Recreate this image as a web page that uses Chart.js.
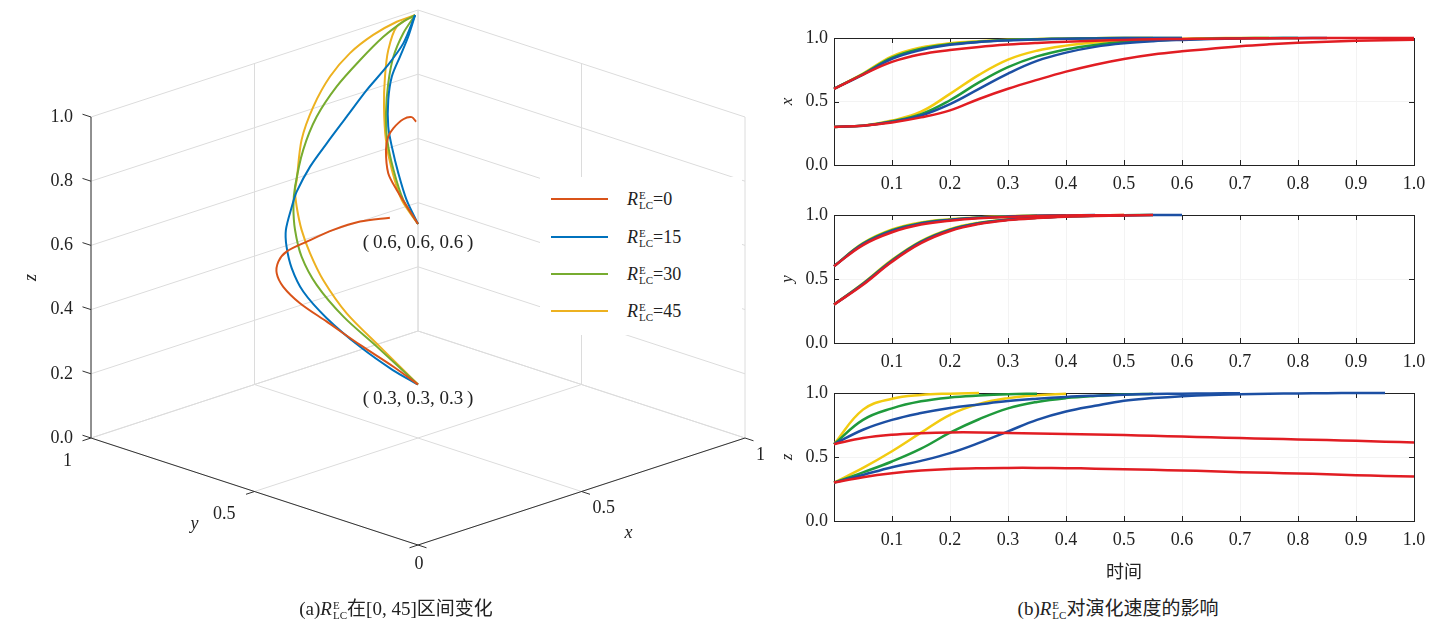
<!DOCTYPE html>
<html lang="zh">
<head>
<meta charset="UTF-8">
<title>R_LC^E 演化</title>
<script src="https://cdnjs.cloudflare.com/ajax/libs/Chart.js/4.4.3/chart.umd.min.js"></script>
<style>
  body { margin: 0; background: #fff; }
  #fig { position: relative; width: 1453px; height: 629px; overflow: hidden;
         font-family: "Liberation Serif", "Times New Roman", "DejaVu Serif", serif; color: #222; }
  canvas { position: absolute; }
  .legend { position: absolute; left: 540px; top: 177px; width: 202px; height: 158px; background: #fff; }
  .item { position: absolute; left: 11px; width: 190px; height: 24px; }
  .item .ln { position: absolute; left: 0; top: 11px; width: 57px; height: 2px; }
  .item .tx { position: absolute; left: 76px; top: 0; font-size: 18px; line-height: 24px; white-space: nowrap; }
  .ss { display: inline-flex; flex-direction: column; font-size: 11px; line-height: 10px;
        vertical-align: 6px; margin-left: 1px; }
  .cap { position: absolute; transform: translate(-50%, -50%); font-size: 19px; white-space: nowrap; }
  .cjk { font-family: "Noto Sans CJK SC", sans-serif; }
</style>
</head>
<body>
<div id="fig">
  <canvas id="c3d" width="770" height="629" style="left:0;top:0"></canvas>
  <canvas id="cx" width="683" height="200" style="left:770px;top:0"></canvas>
  <canvas id="cy" width="683" height="190" style="left:770px;top:190px"></canvas>
  <canvas id="cz" width="683" height="220" style="left:770px;top:370px"></canvas>
  <div class="legend" id="legend"></div>
  <div class="cap" style="left:396px;top:606px">(a)<i>R</i><span class="ss"><span>E</span><span>LC</span></span><span class="cjk">在</span>[0, 45]<span class="cjk">区间变化</span></div>
  <div class="cap" style="left:1118px;top:606px">(b)<i>R</i><span class="ss"><span>E</span><span>LC</span></span><span class="cjk">对演化速度的影响</span></div>
</div>

<script>
// ---- data ----
const rValues = ['0', '15', '30', '45'];
const colors3d = ['#D95319', '#0072BD', '#77AC30', '#EDB120'];
const colors2d = ['#e11d23', '#1c4fa3', '#1f9a3c', '#f2cb10'];

// 3D trajectories [x, y, z], start (0.3,0.3,0.3) and (0.6,0.6,0.6)
const red3Low = [[0.3,0.3,0.3],[0.305,0.38,0.327],[0.32,0.497,0.351],[0.34,0.619,0.376],[0.36,0.721,0.393],[0.39,0.802,0.407],[0.42,0.852,0.422],[0.46,0.887,0.434],[0.51,0.912,0.44],[0.61,0.95,0.425],[0.716,0.975,0.418],[0.811,0.988,0.408],[0.909,0.995,0.385]];
const red3High = [[0.6,0.6,0.6],[0.665,0.73,0.641],[0.709,0.8,0.655],[0.782,0.88,0.677],[0.839,0.93,0.682],[0.88,0.955,0.687],[0.935,0.98,0.688],[0.973,0.992,0.678],[0.991,0.997,0.656]];
const blue3Low = [[0.3,0.3,0.3],[0.305,0.382,0.316],[0.32,0.497,0.345],[0.34,0.619,0.387],[0.37,0.721,0.426],[0.41,0.796,0.46],[0.46,0.862,0.489],[0.51,0.914,0.507],[0.57,0.956,0.545],[0.6,0.971,0.577],[0.655,0.985,0.632],[0.713,0.992,0.683],[0.778,0.996,0.743],[0.841,0.998,0.804],[0.903,0.999,0.856],[0.955,1,0.911],[0.991,1,0.987]];
const blue3High = [[0.6,0.6,0.6],[0.665,0.7,0.62],[0.73,0.79,0.651],[0.785,0.865,0.691],[0.819,0.91,0.727],[0.859,0.95,0.783],[0.892,0.972,0.838],[0.932,0.987,0.882],[0.965,0.995,0.93],[0.991,1,0.987]];
const green3Low = [[0.3,0.3,0.3],[0.315,0.441,0.366],[0.335,0.563,0.412],[0.36,0.67,0.467],[0.4,0.756,0.513],[0.45,0.826,0.556],[0.51,0.891,0.587],[0.565,0.941,0.614],[0.63,0.981,0.694],[0.685,0.995,0.774],[0.75,0.999,0.845],[0.822,0.999,0.904],[0.894,1,0.952],[0.955,1,0.979],[0.991,1,0.987]];
const green3High = [[0.6,0.6,0.6],[0.675,0.72,0.61],[0.745,0.82,0.647],[0.796,0.89,0.7],[0.842,0.94,0.751],[0.879,0.97,0.822],[0.91,0.985,0.89],[0.95,0.995,0.946],[0.991,1,0.987]];
const yellow3Low = [[0.3,0.3,0.3],[0.31,0.426,0.372],[0.33,0.548,0.429],[0.36,0.65,0.489],[0.4,0.73,0.532],[0.45,0.806,0.563],[0.51,0.881,0.59],[0.56,0.936,0.607],[0.59,0.961,0.62],[0.635,0.991,0.72],[0.678,0.998,0.807],[0.73,0.999,0.883],[0.792,1,0.935],[0.863,1,0.968],[0.935,1,0.985],[0.991,1,0.987]];
const yellow3High = [[0.6,0.6,0.6],[0.68,0.73,0.605],[0.75,0.83,0.642],[0.802,0.9,0.694],[0.846,0.95,0.767],[0.874,0.975,0.843],[0.899,0.99,0.912],[0.932,0.997,0.972],[0.991,1,0.987]];

const zTicks3d = [0, 0.2, 0.4, 0.6, 0.8, 1.0];
const xyTicks3d = [0, 0.5, 1];

// time series, sampled on timeGrid (shorter arrays stop earlier)
const timeGrid = [0,0.05,0.1,0.15,0.2,0.25,0.3,0.35,0.4,0.45,0.5,0.55,0.6,0.65,0.7,0.75,0.8,0.85,0.9,0.95,1];

const xLowRed = [0.3,0.31,0.335,0.375,0.43,0.52,0.6,0.67,0.735,0.79,0.835,0.87,0.895,0.915,0.935,0.95,0.962,0.971,0.978,0.983,0.987];
const xHighRed = [0.6,0.712,0.812,0.872,0.905,0.93,0.948,0.961,0.971,0.979,0.985,0.99,0.993,0.995,0.997,0.998,0.999,1,1,1,1];
const xLowBlue = [0.3,0.31,0.34,0.39,0.48,0.6,0.72,0.82,0.885,0.93,0.958,0.975,0.985,0.992,0.996,0.998,1,1];
const xHighBlue = [0.6,0.712,0.835,0.905,0.946,0.968,0.981,0.989,0.994,0.997,1,1,1];
const xLowGreen = [0.3,0.31,0.345,0.4,0.51,0.65,0.77,0.855,0.91,0.945,0.968,0.98,0.99,0.995,0.998,1,1];
const xHighGreen = [0.6,0.716,0.845,0.915,0.952,0.971,0.984,0.991,0.995,0.998,1,1,1];
const xLowYellow = [0.3,0.31,0.35,0.42,0.56,0.71,0.83,0.9,0.94,0.965,0.98,0.99,0.995,0.998,1,1];
const xHighYellow = [0.6,0.72,0.855,0.925,0.958,0.975,0.986,0.992,0.996,0.998,1,1];

const yLowRed = [0.3,0.455,0.635,0.78,0.875,0.93,0.96,0.976,0.986,0.992,0.996,1];
const yHighRed = [0.6,0.765,0.865,0.925,0.955,0.975,0.985,0.992,0.996,0.998,1];
const yLowBlue = [0.3,0.46,0.64,0.788,0.882,0.934,0.962,0.978,0.988,0.994,0.997,1,1];
const yHighBlue = [0.6,0.772,0.876,0.933,0.961,0.978,0.988,0.994,0.997,1];
const yLowGreen = [0.3,0.463,0.645,0.792,0.886,0.937,0.964,0.979,0.989,0.995,0.998,1];
const yHighGreen = [0.6,0.776,0.881,0.937,0.963,0.979,0.989,0.995,0.998];
const yLowYellow = [0.3,0.467,0.65,0.797,0.89,0.94,0.966,0.98,0.99,0.996,1];
const yHighYellow = [0.6,0.78,0.887,0.942,0.967,0.981,0.99,0.996];

const zLowRed = [0.3,0.342,0.373,0.394,0.407,0.413,0.415,0.415,0.413,0.409,0.405,0.4,0.394,0.389,0.381,0.376,0.371,0.366,0.358,0.352,0.347];
const zHighRed = [0.6,0.648,0.674,0.686,0.692,0.692,0.688,0.684,0.68,0.676,0.671,0.666,0.66,0.654,0.648,0.643,0.637,0.632,0.627,0.62,0.614];
const zLowBlue = [0.3,0.36,0.42,0.47,0.53,0.61,0.7,0.79,0.855,0.9,0.94,0.96,0.975,0.985,0.99,0.995,0.997,0.999,1,1];
const zHighBlue = [0.6,0.713,0.79,0.843,0.883,0.911,0.937,0.955,0.969,0.979,0.987,0.992,0.995,0.997,0.999];
const zLowGreen = [0.3,0.38,0.465,0.565,0.69,0.795,0.88,0.93,0.96,0.977,0.988,0.995];
const zHighGreen = [0.6,0.79,0.88,0.935,0.965,0.98,0.99,0.995];
const zLowYellow = [0.3,0.415,0.545,0.69,0.83,0.915,0.96,0.983,0.995];
const zHighYellow = [0.6,0.87,0.955,0.985,0.995,1];

// ---- common ----
const serif = '"Liberation Serif", "Times New Roman", "DejaVu Serif", serif';
const ink = '#222';
Chart.defaults.font.family = serif;
Chart.defaults.color = ink;
Chart.defaults.animation = false;

// ---- 3D panel (orthographic view, origin at front-bottom corner) ----
const viewK = 107 / 327, viewZ = 321 / 327;
function project(p) {
  return { x: p[0] - p[1], y: viewK * (p[0] + p[1]) + viewZ * p[2] };
}

const curves3d = [[red3Low, red3High], [blue3Low, blue3High], [green3Low, green3High], [yellow3Low, yellow3High]];
const ds3d = [];
curves3d.forEach((pair, i) => {
  pair.forEach(c => ds3d.push({
    data: c.map(project),
    showLine: true,
    borderColor: colors3d[i],
    borderWidth: 2,
    pointRadius: 0,
    tension: 0.3,
    clip: false
  }));
});

function pixelOf(chart) {
  const sx = chart.scales.x, sy = chart.scales.y;
  return p => { const q = project(p); return [sx.getPixelForValue(q.x), sy.getPixelForValue(q.y)]; };
}

const box3d = {
  id: 'box3d',
  beforeDatasetsDraw(chart) {
    const ctx = chart.ctx;
    const P = pixelOf(chart);
    const seg = (a, b) => { const p = P(a), q = P(b); ctx.moveTo(p[0], p[1]); ctx.lineTo(q[0], q[1]); };
    ctx.save();
    ctx.strokeStyle = '#dcdcdc';
    ctx.lineWidth = 1;
    ctx.beginPath();
    xyTicks3d.forEach(v => {
      seg([v, 0, 0], [v, 1, 0]);
      seg([0, v, 0], [1, v, 0]);
      seg([v, 1, 0], [v, 1, 1]);
      seg([1, v, 0], [1, v, 1]);
    });
    zTicks3d.forEach(z => {
      seg([0, 1, z], [1, 1, z]);
      seg([1, 0, z], [1, 1, z]);
    });
    ctx.stroke();
    ctx.restore();
  },
  afterDatasetsDraw(chart) {
    const ctx = chart.ctx;
    const P = pixelOf(chart);
    const seg = (a, b) => { const p = P(a), q = P(b); ctx.moveTo(p[0], p[1]); ctx.lineTo(q[0], q[1]); };
    ctx.save();
    ctx.strokeStyle = '#333';
    ctx.lineWidth = 1;
    ctx.beginPath();
    seg([0, 1, 0], [0, 1, 1]);
    seg([0, 0, 0], [0, 1, 0]);
    seg([0, 0, 0], [1, 0, 0]);
    zTicks3d.forEach(z => seg([0, 1, z], [0, 1.026, z]));
    xyTicks3d.forEach(v => {
      seg([0, v, 0], [-0.026, v, 0]);
      seg([v, 0, 0], [v, -0.026, 0]);
    });
    ctx.stroke();

    ctx.fillStyle = ink;
    ctx.font = '18px ' + serif;
    ctx.textBaseline = 'middle';
    ctx.textAlign = 'right';
    zTicks3d.forEach(z => {
      const p = P([0, 1, z]);
      ctx.fillText(z.toFixed(1), p[0] - 18, p[1]);
    });
    xyTicks3d.slice(1).forEach(v => {
      const p = P([0, v, 0]);
      ctx.fillText(String(v), p[0] - 19, p[1] + 23);
    });
    ctx.textAlign = 'left';
    xyTicks3d.slice(1).forEach(v => {
      const p = P([v, 0, 0]);
      ctx.fillText(String(v), p[0] + 11, p[1] + 17);
    });
    ctx.textAlign = 'center';
    const o = P([0, 0, 0]);
    ctx.fillText('0', o[0] + 1, o[1] + 19);

    // start point notes
    ctx.font = '19px ' + serif;
    const a6 = P([0.6, 0.6, 0.6]), a3 = P([0.3, 0.3, 0.3]);
    ctx.fillText('(\u20090.6, 0.6, 0.6\u2009)', a6[0], a6[1] + 19);
    ctx.fillText('(\u20090.3, 0.3, 0.3\u2009)', a3[0], a3[1] + 15);

    // axis titles
    ctx.font = 'italic 18px ' + serif;
    const ym = P([0, 0.5, 0]), xm = P([0.5, 0, 0]), zm = P([0, 1, 0.5]);
    ctx.fillText('y', ym[0] - 60, ym[1] + 33);
    ctx.fillText('x', xm[0] + 47, xm[1] + 42);
    ctx.translate(zm[0] - 60, zm[1]);
    ctx.rotate(-Math.PI / 2);
    ctx.fillText('z', 0, 0);
    ctx.restore();
  }
};

const ox = 418, oy = 545, unit = 327;
new Chart(document.getElementById('c3d'), {
  type: 'scatter',
  data: { datasets: ds3d },
  options: {
    responsive: false,
    layout: { padding: 0 },
    plugins: { legend: { display: false }, tooltip: { enabled: false } },
    scales: {
      x: { display: false, min: -ox / unit, max: (770 - ox) / unit },
      y: { display: false, min: -(629 - oy) / unit, max: oy / unit }
    }
  },
  plugins: [box3d]
});

// legend (HTML, for stacked super/subscript)
const legendEl = document.getElementById('legend');
const legendRows = [198.8, 236.7, 274, 311];
rValues.forEach((r, i) => {
  const it = document.createElement('div');
  it.className = 'item';
  it.style.top = (legendRows[i] - 12 - 177) + 'px';
  it.innerHTML = '<div class="ln" style="background:' + colors3d[i] + '"></div>' +
    '<div class="tx"><i>R</i><span class="ss"><span>E</span><span>LC</span></span>=' + r + '</div>';
  legendEl.appendChild(it);
});

// ---- time panels ----
const frame = {
  id: 'frame',
  beforeDatasetsDraw(chart) {
    const { ctx, chartArea: a, scales: { x, y } } = chart;
    ctx.save();
    ctx.strokeStyle = ink;
    ctx.lineWidth = 1;
    ctx.strokeRect(Math.round(a.left) + 0.5, Math.round(a.top) + 0.5, Math.round(a.right - a.left), Math.round(a.bottom - a.top));
    ctx.beginPath();
    x.ticks.forEach(t => {
      const px = Math.round(x.getPixelForValue(t.value)) + 0.5;
      ctx.moveTo(px, a.bottom); ctx.lineTo(px, a.bottom - 5);
      ctx.moveTo(px, a.top); ctx.lineTo(px, a.top + 5);
    });
    y.ticks.forEach(t => {
      const py = Math.round(y.getPixelForValue(t.value)) + 0.5;
      ctx.moveTo(a.left, py); ctx.lineTo(a.left + 5, py);
      ctx.moveTo(a.right, py); ctx.lineTo(a.right - 5, py);
    });
    ctx.stroke();
    ctx.restore();
  }
};

function toPoints(vals) {
  return vals.map((v, i) => ({ x: timeGrid[i], y: v }));
}

function panel(id, yTitle, series, padTop, axisH, xTitle) {
  const datasets = series.map(s => ({
    data: toPoints(s[0]),
    showLine: true,
    borderColor: colors2d[s[1]],
    borderWidth: 2.5,
    pointRadius: 0,
    tension: 0.4,
    clip: 5
  }));
  new Chart(document.getElementById(id), {
    type: 'scatter',
    data: { datasets },
    options: {
      responsive: false,
      layout: { padding: { top: padTop, right: 39, left: 0, bottom: 0 } },
      plugins: { legend: { display: false }, tooltip: { enabled: false } },
      scales: {
        x: {
          type: 'linear', min: 0, max: 1,
          afterFit: s => { s.height = axisH; },
          border: { display: false },
          grid: { color: '#f3f3f3', drawTicks: false },
          ticks: {
            stepSize: 0.1, padding: 8, maxRotation: 0, autoSkip: false,
            font: { size: 18 }, color: ink,
            callback: v => Math.abs(v) < 1e-9 ? '' : v.toFixed(1)
          },
          title: xTitle ? { display: true, text: xTitle, font: { size: 18, family: '"Noto Sans CJK SC", sans-serif' }, color: ink, padding: { top: 0, bottom: 8 } } : { display: false }
        },
        y: {
          min: 0, max: 1,
          afterFit: s => { s.width = 64; },
          border: { display: false },
          grid: { color: '#f3f3f3', drawTicks: false },
          ticks: { stepSize: 0.5, padding: 6, font: { size: 18 }, color: ink, callback: v => v.toFixed(1) },
          title: { display: true, text: yTitle, font: { size: 17, style: 'italic' }, color: ink, padding: { top: 7, bottom: 0 } }
        }
      }
    },
    plugins: [frame]
  });
}

panel('cx', 'x', [
  [xHighRed, 0], [xLowRed, 0], [xHighBlue, 1], [xLowBlue, 1],
  [xHighGreen, 2], [xLowGreen, 2], [xHighYellow, 3], [xLowYellow, 3]
], 38, 35);
panel('cy', 'y', [
  [yHighRed, 0], [yLowRed, 0], [yHighBlue, 1], [yLowBlue, 1],
  [yHighGreen, 2], [yLowGreen, 2], [yHighYellow, 3], [yLowYellow, 3]
], 25, 37);
panel('cz', 'z', [
  [zHighRed, 0], [zLowRed, 0], [zHighBlue, 1], [zLowBlue, 1],
  [zHighGreen, 2], [zLowGreen, 2], [zHighYellow, 3], [zLowYellow, 3]
], 23, 69, '时间');
</script>
</body>
</html>
